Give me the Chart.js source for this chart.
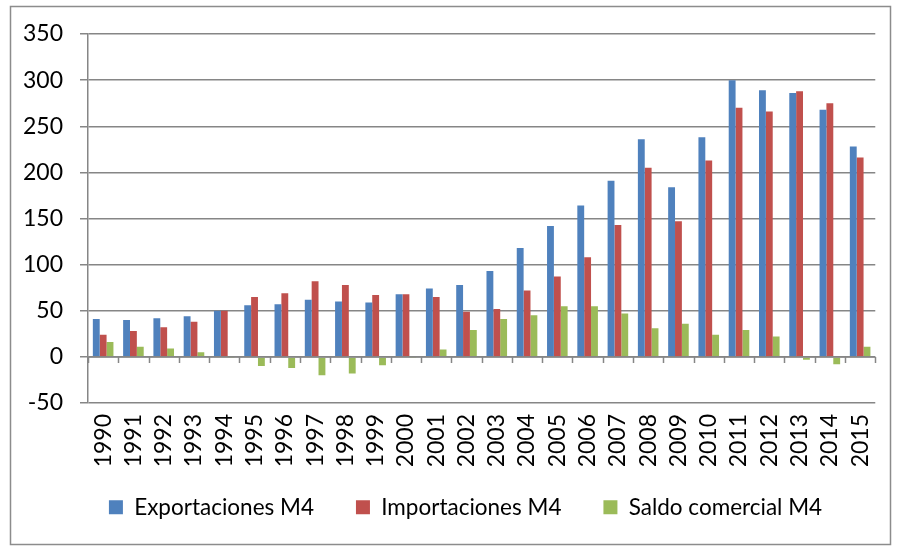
<!DOCTYPE html>
<html>
<head>
<meta charset="utf-8">
<script src="https://cdn.jsdelivr.net/npm/chart.js@4/dist/chart.umd.min.js"></script>
<style>
  html, body { margin: 0; padding: 0; background: #ffffff; }
  #wrap { width: 899px; height: 546px; position: relative; }
</style>
</head>
<body>
<div id="wrap"><canvas id="c" width="899" height="546"></canvas></div>
<script>
const years = ['1990','1991','1992','1993','1994','1995','1996','1997','1998','1999','2000','2001','2002','2003','2004','2005','2006','2007','2008','2009','2010','2011','2012','2013','2014','2015'];
const exportaciones = [41, 40, 42, 44, 50, 56, 57, 62, 60, 59, 68, 74, 78, 93, 118, 142, 164, 191, 236, 184, 238, 300, 289, 286, 268, 228];
const importaciones = [24, 28, 32, 38, 50, 65, 69, 82, 78, 67, 68, 65, 49, 52, 72, 87, 108, 143, 205, 147, 213, 270, 266, 288, 275, 216];
const saldo = [16, 11, 9, 5, -0.5, -10, -12, -20, -18, -9, -0.5, 8, 29, 41, 45, 55, 55, 47, 31, 36, 24, 29, 22, -3, -8, 11];
const yTicks = [-50, 0, 50, 100, 150, 200, 250, 300, 350];
const seriesNames = ['Exportaciones M4', 'Importaciones M4', 'Saldo comercial M4'];

const FONT = 'Lato, "Liberation Sans", sans-serif';
const GRID = '#868686';

const frame = {
  id: 'frame',
  beforeInit(chart) {
    const lg = chart.legend;
    if (lg) {
      const orig = lg.fit;
      lg.fit = function () { orig.call(this); this.height = 80; };
    }
  },
  afterLayout(chart) {
    const lg = chart.legend;
    if (lg) {
      lg.left += 36;
      lg.top = 454;
    }
  },
  beforeDraw(chart) {
    const ctx = chart.ctx;
    ctx.save();
    ctx.fillStyle = '#ffffff';
    ctx.fillRect(0, 0, chart.width, chart.height);
    ctx.strokeStyle = '#8c8c8c';
    ctx.lineWidth = 1.5;
    ctx.strokeRect(10.5, 6.5, 880, 538);
    ctx.restore();
  },
  afterDatasetsDraw(chart) {
    const ctx = chart.ctx;
    const x = chart.scales.x, y = chart.scales.y;
    const y0 = y.getPixelForValue(0);
    const n = years.length;
    const w = (x.right - x.left) / n;
    ctx.save();
    ctx.strokeStyle = GRID;
    ctx.lineWidth = 1.5;
    ctx.beginPath();
    ctx.moveTo(x.left, y0);
    ctx.lineTo(x.right, y0);
    for (let i = 0; i <= n; i++) {
      const px = Math.round(x.left + i * w) + 0.5;
      ctx.moveTo(px, y0);
      ctx.lineTo(px, y0 + 6);
    }
    ctx.stroke();
    ctx.restore();
  }
};

new Chart(document.getElementById('c'), {
  type: 'bar',
  data: {
    labels: years,
    datasets: [
      { label: seriesNames[0], data: exportaciones, backgroundColor: '#4F81BD' },
      { label: seriesNames[1], data: importaciones, backgroundColor: '#C0504D' },
      { label: seriesNames[2], data: saldo, backgroundColor: '#9BBB59' }
    ]
  },
  options: {
    responsive: false,
    animation: false,
    devicePixelRatio: 1,
    layout: { padding: { left: 10, right: 14, top: 34, bottom: 0 } },
    datasets: { bar: { categoryPercentage: 0.68, barPercentage: 1.0, borderWidth: 0 } },
    plugins: {
      tooltip: { enabled: false },
      legend: {
        position: 'bottom',
        labels: {
          font: { family: FONT, size: 22.5 },
          color: '#000000',
          boxWidth: 14,
          boxHeight: 14,
          padding: 42
        }
      }
    },
    scales: {
      x: {
        afterFit(s) { s.height = 63; },
        grid: { display: false, drawTicks: false },
        border: { display: false },
        ticks: {
          minRotation: 90, maxRotation: 90, autoSkip: false,
          padding: 11,
          font: { family: FONT, size: 23 },
          color: '#000000'
        }
      },
      y: {
        min: -50, max: 350,
        afterFit(s) { s.width = 78; },
        afterBuildTicks(s) { s.ticks = yTicks.map(v => ({ value: v })); },
        grid: { color: GRID, lineWidth: 1.5, tickLength: 8, drawTicks: true, tickColor: GRID },
        border: { display: true, color: GRID, width: 1.5 },
        ticks: {
          padding: 17,
          font: { family: FONT, size: 23 },
          color: '#000000'
        }
      }
    }
  },
  plugins: [frame]
});
</script>
</body>
</html>
